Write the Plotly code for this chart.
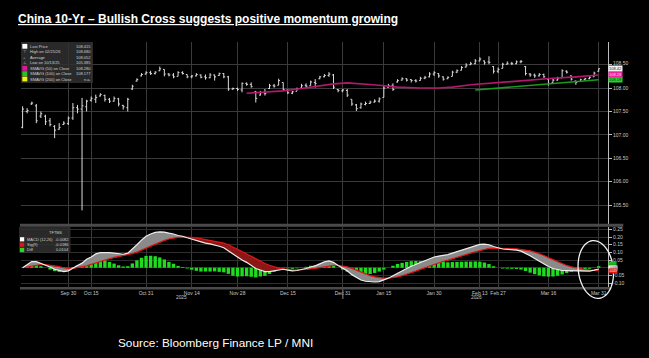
import math
import pandas as pd
import plotly.graph_objects as go

# ---------------- data ----------------
holidays = ["2025-10-01", "2025-10-02", "2025-10-03", "2025-10-06", "2025-10-07", "2025-10-08",
            "2026-01-01", "2026-01-02",
            "2026-02-16", "2026-02-17", "2026-02-18", "2026-02-19", "2026-02-20", "2026-02-23"]
start_date = "2025-09-16"
end_date = "2026-03-31"

open_ = [107.16, 107.50, 107.66, 107.62, 107.40, 107.40, 107.30, 107.18, 107.12, 107.22,
         107.24, 107.36, 107.58, 107.55, 107.60, 107.74, 107.76, 107.83, 107.84, 107.76,
         107.72, 107.77, 107.63, 107.58, 107.98, 108.15, 108.26, 108.30, 108.33, 108.31,
         108.37, 108.40, 108.30, 108.28, 108.25, 108.33, 108.29, 108.24, 108.26, 108.28,
         108.24, 108.22, 108.28, 108.27, 108.31, 108.24, 107.98, 107.99, 107.96, 108.10,
         108.08, 107.92, 107.85, 107.90, 107.99, 108.05, 108.06, 108.12, 107.96, 107.89,
         107.93, 108.00, 108.06, 108.05, 108.12, 108.20, 108.24, 108.27, 108.28, 107.97,
         107.94, 107.95, 107.76, 107.64, 107.58, 107.65, 107.67, 107.70, 107.72, 107.80,
         108.02, 108.06, 108.13, 108.17, 108.20, 108.18, 108.16, 108.16, 108.21, 108.24,
         108.30, 108.31, 108.24, 108.20, 108.25, 108.34, 108.38, 108.45, 108.50, 108.52,
         108.58, 108.58, 108.56, 108.46, 108.36, 108.42, 108.51, 108.53, 108.52, 108.56,
         108.46, 108.30, 108.28, 108.26, 108.29, 108.19, 108.12, 108.17, 108.22, 108.36,
         108.26, 108.15, 108.14, 108.18, 108.20, 108.24, 108.36]
high = [107.61, 107.57, 107.71, 107.66, 107.50, 107.43, 107.36, 107.21, 107.25, 107.29,
        107.39, 107.68, 107.64, 107.79, 107.75, 107.82, 107.86, 107.89, 107.86, 107.79,
        107.82, 107.79, 107.64, 107.79, 108.07, 108.21, 108.32, 108.36, 108.37, 108.36,
        108.46, 108.40, 108.32, 108.32, 108.36, 108.36, 108.29, 108.28, 108.32, 108.29,
        108.29, 108.32, 108.29, 108.33, 108.32, 108.26, 108.01, 108.01, 108.12, 108.12,
        108.12, 107.94, 107.94, 107.98, 108.09, 108.09, 108.20, 108.12, 107.98, 107.94,
        108.01, 108.09, 108.10, 108.16, 108.19, 108.26, 108.30, 108.34, 108.30, 107.98,
        107.98, 107.98, 107.76, 107.66, 107.69, 107.71, 107.73, 107.76, 107.80, 108.05,
        108.09, 108.10, 108.19, 108.23, 108.21, 108.19, 108.19, 108.24, 108.26, 108.34,
        108.36, 108.32, 108.25, 108.25, 108.37, 108.40, 108.47, 108.53, 108.56, 108.62,
        108.66, 108.59, 108.68, 108.47, 108.44, 108.54, 108.57, 108.56, 108.59, 108.60,
        108.47, 108.32, 108.31, 108.32, 108.31, 108.20, 108.20, 108.24, 108.40, 108.38,
        108.27, 108.16, 108.20, 108.22, 108.25, 108.35, 108.42]
low = [107.14, 107.46, 107.64, 107.25, 107.36, 107.21, 107.18, 106.93, 107.11, 107.21,
       107.21, 107.32, 107.46, 105.385, 107.50, 107.71, 107.68, 107.82, 107.71, 107.68,
       107.71, 107.61, 107.54, 107.50, 107.96, 108.14, 108.25, 108.29, 108.28, 108.29,
       108.36, 108.25, 108.25, 108.21, 108.25, 108.29, 108.21, 108.21, 108.25, 108.21,
       108.18, 108.21, 108.16, 108.26, 108.21, 107.94, 107.96, 107.94, 107.91, 108.05,
       108.01, 107.69, 107.84, 107.84, 107.98, 108.01, 108.06, 107.94, 107.87, 107.87,
       107.94, 108.00, 108.01, 108.05, 108.01, 108.19, 108.23, 108.24, 107.98, 107.91,
       107.91, 107.81, 107.62, 107.51, 107.56, 107.63, 107.66, 107.69, 107.69, 107.80,
       108.01, 107.94, 108.12, 108.16, 108.14, 108.12, 108.12, 108.16, 108.19, 108.23,
       108.26, 108.22, 108.16, 108.19, 108.25, 108.32, 108.38, 108.44, 108.49, 108.51,
       108.57, 108.50, 108.51, 108.31, 108.32, 108.42, 108.50, 108.49, 108.51, 108.53,
       108.27, 108.24, 108.22, 108.25, 108.22, 108.05, 108.12, 108.16, 108.22, 108.31,
       108.16, 108.07, 108.14, 108.16, 108.19, 108.24, 108.35]
close = [107.55, 107.52, 107.68, 107.30, 107.45, 107.28, 107.22, 107.10, 107.16, 107.25,
         107.36, 107.58, 107.55, 107.62, 107.72, 107.78, 107.80, 107.86, 107.76, 107.72,
         107.78, 107.66, 107.60, 107.76, 108.04, 108.18, 108.29, 108.33, 108.31, 108.34,
         108.41, 108.30, 108.28, 108.24, 108.33, 108.31, 108.24, 108.26, 108.29, 108.23,
         108.22, 108.28, 108.24, 108.31, 108.24, 107.98, 107.99, 107.97, 108.10, 108.08,
         108.03, 107.78, 107.90, 107.88, 108.05, 108.04, 108.16, 107.97, 107.90, 107.92,
         107.99, 108.05, 108.04, 108.13, 108.10, 108.24, 108.27, 108.30, 108.02, 107.95,
         107.96, 107.85, 107.66, 107.56, 107.66, 107.67, 107.70, 107.72, 107.77, 108.00,
         108.05, 107.97, 108.16, 108.20, 108.17, 108.16, 108.15, 108.21, 108.23, 108.30,
         108.33, 108.26, 108.19, 108.23, 108.34, 108.37, 108.44, 108.49, 108.52, 108.58,
         108.62, 108.54, 108.55, 108.36, 108.40, 108.51, 108.53, 108.52, 108.56, 108.57,
         108.31, 108.28, 108.26, 108.29, 108.24, 108.10, 108.17, 108.20, 108.37, 108.34,
         108.19, 108.12, 108.18, 108.20, 108.23, 108.32, 108.415]

sma50_dates = ["2025-12-02", "2025-12-05", "2025-12-12", "2025-12-18", "2025-12-24", "2025-12-29",
               "2026-01-05", "2026-01-09", "2026-01-14", "2026-01-20", "2026-01-27", "2026-02-02",
               "2026-02-05", "2026-02-11", "2026-02-26", "2026-03-06", "2026-03-17", "2026-03-24",
               "2026-03-31"]
sma50 = [107.89, 107.91, 107.94, 107.99, 108.05, 108.09, 108.11, 108.09, 108.06, 108.02,
         108.00, 108.00, 108.02, 108.07, 108.11, 108.16, 108.21, 108.24, 108.28]
sma100_dates = ["2026-02-12", "2026-02-27", "2026-03-06", "2026-03-13", "2026-03-23", "2026-03-31"]
sma100 = [107.96, 108.00, 108.05, 108.09, 108.13, 108.177]

macd = [0.0, 0.02, 0.04, 0.04, 0.03, 0.02, 0.005, -0.01, -0.02, -0.025,
        -0.02, 0.0, 0.015, 0.03, 0.055, 0.07, 0.09, 0.098, 0.1, 0.098,
        0.095, 0.09, 0.088, 0.095, 0.12, 0.15, 0.18, 0.205, 0.22, 0.23,
        0.234, 0.232, 0.225, 0.22, 0.21, 0.205, 0.195, 0.185, 0.175, 0.165,
        0.16, 0.155, 0.15, 0.14, 0.13, 0.11, 0.085, 0.065, 0.05, 0.035,
        0.015, -0.005, -0.015, -0.025, -0.025, -0.02, -0.012, -0.01, -0.015, -0.02,
        -0.018, -0.012, -0.005, 0.005, 0.012, 0.025, 0.038, 0.045, 0.035, 0.015,
        0.0, -0.02, -0.045, -0.065, -0.08, -0.088, -0.092, -0.093, -0.09, -0.08,
        -0.068, -0.052, -0.035, -0.02, -0.005, 0.01, 0.022, 0.032, 0.045, 0.058,
        0.07, 0.076, 0.08, 0.085, 0.095, 0.105, 0.115, 0.125, 0.135, 0.145,
        0.152, 0.154, 0.15, 0.138, 0.128, 0.122, 0.12, 0.118, 0.115, 0.108,
        0.095, 0.078, 0.06, 0.042, 0.024, 0.008, -0.005, -0.014, -0.018, -0.019,
        -0.02, -0.022, -0.024, -0.025, -0.022, -0.016, -0.0082]
signal = [0.0, 0.005, 0.012, 0.018, 0.02, 0.02, 0.017, 0.012, 0.007, 0.0,
          -0.005, -0.004, 0.0, 0.005, 0.012, 0.022, 0.032, 0.042, 0.052, 0.06,
          0.068, 0.074, 0.08, 0.085, 0.092, 0.102, 0.115, 0.128, 0.142, 0.155,
          0.167, 0.178, 0.187, 0.194, 0.198, 0.2, 0.2, 0.198, 0.195, 0.19,
          0.185, 0.18, 0.174, 0.167, 0.16, 0.15, 0.137, 0.122, 0.106, 0.09,
          0.074, 0.058, 0.042, 0.028, 0.016, 0.006, -0.002, -0.007, -0.011, -0.013,
          -0.014, -0.013, -0.011, -0.008, -0.004, 0.0, 0.006, 0.012, 0.015, 0.015,
          0.012, 0.006, -0.004, -0.016, -0.029, -0.041, -0.051, -0.059, -0.065, -0.068,
          -0.068, -0.065, -0.06, -0.052, -0.043, -0.033, -0.022, -0.011, 0.0, 0.012,
          0.023, 0.033, 0.042, 0.05, 0.058, 0.067, 0.076, 0.085, 0.095, 0.104,
          0.113, 0.12, 0.126, 0.128, 0.128, 0.127, 0.126, 0.125, 0.123, 0.12,
          0.116, 0.11, 0.102, 0.092, 0.08, 0.066, 0.052, 0.038, 0.026, 0.015,
          0.006, -0.001, -0.007, -0.012, -0.015, -0.017, -0.0186]
diff = [0.0, 0.015, 0.028, 0.022, 0.01, 0.0, -0.012, -0.022, -0.027, -0.025,
        -0.015, 0.004, 0.015, 0.025, 0.043, 0.048, 0.058, 0.056, 0.048, 0.038,
        0.027, 0.016, 0.008, 0.01, 0.028, 0.048, 0.065, 0.077, 0.078, 0.075,
        0.067, 0.054, 0.038, 0.026, 0.012, 0.005, -0.005, -0.013, -0.02, -0.025,
        -0.025, -0.025, -0.024, -0.027, -0.03, -0.04, -0.052, -0.057, -0.056, -0.055,
        -0.059, -0.063, -0.057, -0.053, -0.041, -0.026, -0.01, -0.003, -0.004, -0.007,
        -0.004, 0.001, 0.006, 0.013, 0.016, 0.025, 0.032, 0.033, 0.02, 0.0,
        -0.012, -0.026, -0.041, -0.049, -0.051, -0.047, -0.041, -0.034, -0.025, -0.012,
        0.0, 0.013, 0.025, 0.032, 0.038, 0.043, 0.044, 0.043, 0.045, 0.046,
        0.047, 0.043, 0.038, 0.035, 0.037, 0.038, 0.039, 0.04, 0.04, 0.041,
        0.039, 0.034, 0.024, 0.01, 0.0, -0.005, -0.006, -0.007, -0.008, -0.012,
        -0.021, -0.032, -0.042, -0.05, -0.056, -0.058, -0.057, -0.052, -0.044, -0.034,
        -0.026, -0.021, -0.017, -0.013, -0.007, 0.001, 0.0104]

tick_dates = ["2025-09-30", "2025-10-15", "2025-10-31", "2025-11-14", "2025-11-28", "2025-12-15",
              "2025-12-31", "2026-01-15", "2026-01-30", "2026-02-13", "2026-02-27", "2026-03-16",
              "2026-03-31"]
tick_labels = ["Sep 30", "Oct 15", "Oct 31", "Nov 14", "Nov 28", "Dec 15", "Dec 31", "Jan 15",
               "Jan 30", "Feb 13", "Feb 27", "Mar 16", "Mar 31"]
price_ticks = [105.5, 106.0, 106.5, 107.0, 107.5, 108.0, 108.5]
macd_ticks = [-0.10, -0.05, 0.0, 0.05, 0.10, 0.15, 0.20, 0.25]

legend_rows = [("Last Price", "108.415"), ("High on 02/25/26", "108.680"), ("Average", "108.052"),
               ("Low on 10/13/25", "105.385"), ("SMAVG (50) on Close", "108.280"),
               ("SMAVG (100) on Close", "108.177"), ("SMAVG (200) on Close", "n.a.")]
macd_rows = [("MACD (12,26)", "-0.0082"), ("Sig(9)", "-0.0186"), ("Diff", "0.0104")]

# ---------------- trading-day axis ----------------
days = pd.bdate_range(start_date, end_date)
days = days[~days.isin(pd.to_datetime(holidays))]
day_index = {d.strftime("%Y-%m-%d"): i for i, d in enumerate(days)}
idx = list(range(len(close)))
tickvals = [day_index[d] for d in tick_dates]
sma50_x = [day_index[d] for d in sma50_dates]
sma100_x = [day_index[d] for d in sma100_dates]

# ---------------- geometry (pixels) ----------------
FW, FH = 649, 358
PL, PR, PT, PB = 21, 607.7, 42, 288
PW, PH = PR - PL, PB - PT


def fx(px):
    return (px - PL) / PW


def fy(py):
    return (PB - py) / PH


WHITE_BAR = "#dcdcdc"
GRID = "#3a3a3a"
TXT = "#c8c8c8"
MAGENTA = "#b3176f"
GREEN_SMA = "#1c9a1c"
FONT = "Liberation Sans, Arial, sans-serif"
LEG_FS = 4.0

fig = go.Figure()

# price bars
fig.add_trace(go.Ohlc(x=idx, open=open_, high=high, low=low, close=close,
                      increasing=dict(line=dict(color=WHITE_BAR, width=1)),
                      decreasing=dict(line=dict(color=WHITE_BAR, width=1)),
                      tickwidth=0.3, xaxis="x", yaxis="y", hoverinfo="skip"))
fig.add_trace(go.Scatter(x=sma50_x, y=sma50, mode="lines", line=dict(color=MAGENTA, width=1.6),
                         xaxis="x", yaxis="y", hoverinfo="skip"))
fig.add_trace(go.Scatter(x=sma100_x, y=sma100, mode="lines", line=dict(color=GREEN_SMA, width=1.6),
                         xaxis="x", yaxis="y", hoverinfo="skip"))

# MACD histogram
fig.add_trace(go.Bar(x=idx, y=diff, marker=dict(color="#1fdc1f", line=dict(width=0)), width=0.74,
                     xaxis="x", yaxis="y2", hoverinfo="skip"))

# MACD vs signal filled areas
segments = []
cur_x, cur_a, cur_b = [idx[0]], [macd[0]], [signal[0]]
cur_sign = 0
for i in range(len(idx) - 1):
    d0 = macd[i] - signal[i]
    d1 = macd[i + 1] - signal[i + 1]
    if cur_sign == 0 and d0 != 0:
        cur_sign = 1 if d0 > 0 else -1
    if d0 * d1 < 0:
        t = d0 / (d0 - d1)
        xc = idx[i] + t * (idx[i + 1] - idx[i])
        yc = macd[i] + t * (macd[i + 1] - macd[i])
        cur_x.append(xc); cur_a.append(yc); cur_b.append(yc)
        segments.append((cur_x, cur_a, cur_b, cur_sign))
        cur_x, cur_a, cur_b = [xc], [yc], [yc]
        cur_sign = 1 if d1 > 0 else -1
    cur_x.append(idx[i + 1]); cur_a.append(macd[i + 1]); cur_b.append(signal[i + 1])
segments.append((cur_x, cur_a, cur_b, cur_sign))

for sx, sa, sb, sg in segments:
    fig.add_trace(go.Scatter(x=sx + sx[::-1], y=sa + sb[::-1], mode="lines", fill="toself",
                             fillcolor="#8a8a8a" if sg > 0 else "#8c1717",
                             line=dict(width=0), xaxis="x", yaxis="y2", hoverinfo="skip"))

fig.add_trace(go.Scatter(x=idx, y=signal, mode="lines", line=dict(color="#e01515", width=1.2),
                         xaxis="x", yaxis="y2", hoverinfo="skip"))
fig.add_trace(go.Scatter(x=idx, y=macd, mode="lines", line=dict(color="#eeeeee", width=1.2),
                         xaxis="x", yaxis="y2", hoverinfo="skip"))

# ---------------- layout ----------------
top_dom = [fy(224.5), 1.0]
bot_dom = [0.0, fy(226.5)]
x_lo = (PL - 22.6) / 4.57
x_hi = (PR - 22.6) / 4.57

# the top-most price label is drawn as an annotation (nudged up, like the reference where a tag covers it)
price_ticktext = [f"{v:.2f}" if v != price_ticks[-1] else "" for v in price_ticks]
macd_ticktext = ["" if v == 0 else f"{v:.2f}" for v in macd_ticks]

fig.update_layout(
    width=FW, height=FH, autosize=False,
    paper_bgcolor="#000000", plot_bgcolor="#000000",
    margin=dict(l=PL, r=FW - PR, t=PT, b=FH - PB, autoexpand=False),
    showlegend=False, bargap=0.2,
    font=dict(family=FONT, color=TXT, size=6),
    xaxis=dict(domain=[0, 1], anchor="y2", range=[x_lo, x_hi], tickvals=tickvals, ticktext=tick_labels,
               showgrid=True, gridcolor=GRID, gridwidth=1, zeroline=False, showline=False,
               ticks="", ticklabelstandoff=1, tickangle=0, automargin=False,
               tickfont=dict(size=5, color=TXT), rangeslider=dict(visible=False)),
    yaxis=dict(domain=top_dom, anchor="x", side="right", range=[105.083, 108.985],
               tickvals=price_ticks, ticktext=price_ticktext,
               showgrid=True, gridcolor=GRID, gridwidth=1, zeroline=False, automargin=False,
               showline=True, linecolor="#bdbdbd", linewidth=1, ticks="outside", ticklen=3,
               tickcolor="#bdbdbd", tickfont=dict(size=5, color=TXT)),
    yaxis2=dict(domain=bot_dom, anchor="x", side="right", range=[-0.132, 0.2686],
                tickvals=macd_ticks, ticktext=macd_ticktext,
                showgrid=True, gridcolor="#2f2f2f", gridwidth=1, zeroline=False, automargin=False,
                showline=True, linecolor="#bdbdbd", linewidth=1, ticks="outside", ticklen=3,
                tickcolor="#bdbdbd", tickfont=dict(size=5, color=TXT)),
)

shapes = []
annotations = []

# panel separator bands
shapes.append(dict(type="rect", xref="paper", yref="paper", x0=fx(20), x1=fx(623), y0=fy(226.8), y1=fy(223.8),
                   fillcolor="#4a4a4a", line=dict(width=0), layer="above"))
shapes.append(dict(type="rect", xref="paper", yref="paper", x0=fx(20), x1=fx(611), y0=fy(289.5), y1=fy(287.0),
                   fillcolor="#4a4a4a", line=dict(width=0), layer="above"))
shapes.append(dict(type="line", xref="paper", yref="paper", x0=fx(342.7), x1=fx(342.7), y0=fy(289.5), y1=fy(299),
                   line=dict(color="#8a8a8a", width=1)))

# top legend box
shapes.append(dict(type="rect", xref="paper", yref="paper", x0=fx(21), x1=fx(93), y0=fy(83), y1=fy(42),
                   fillcolor="rgba(48,48,48,0.85)", line=dict(width=0), layer="above"))
row_y = [46.3, 51.7, 57.0, 62.3, 68.3, 73.7, 79.0]
marker_cols = ["#ffffff", None, None, None, "#e0169a", "#22c422", "#f2f20a"]
symbols = [None, "⊤", "+", "⊥", None, None, None]
for (lab, val), py, mc, sym in zip(legend_rows, row_y, marker_cols, symbols):
    if mc:
        shapes.append(dict(type="rect", xref="paper", yref="paper", x0=fx(22.3), x1=fx(27.3),
                           y0=fy(py + 2.4), y1=fy(py - 2.4), fillcolor=mc, line=dict(width=0), layer="above"))
    if sym:
        annotations.append(dict(x=fx(24.8), y=fy(py), xref="paper", yref="paper", text=sym, showarrow=False,
                                xanchor="center", yanchor="middle", font=dict(size=LEG_FS, color="#bdbdbd")))
    annotations.append(dict(x=fx(29), y=fy(py), xref="paper", yref="paper", text=lab, showarrow=False,
                            xanchor="left", yanchor="middle", borderpad=0,
                            font=dict(size=LEG_FS, color="#d0d0d0")))
    annotations.append(dict(x=fx(91.5), y=fy(py), xref="paper", yref="paper", text=val, showarrow=False,
                            xanchor="right", yanchor="middle", borderpad=0,
                            font=dict(size=LEG_FS, color="#d0d0d0")))

# MACD legend box
shapes.append(dict(type="rect", xref="paper", yref="paper", x0=fx(19), x1=fx(70.5), y0=fy(253), y1=fy(227),
                   fillcolor="rgba(48,48,48,0.85)", line=dict(width=0), layer="above"))
annotations.append(dict(x=fx(64), y=fy(232), xref="paper", yref="paper", text="TFTM6", showarrow=False,
                        xanchor="right", yanchor="middle", borderpad=0,
                        font=dict(size=LEG_FS, color="#d0d0d0")))
macd_cols = ["#ffffff", "#e01515", "#1fdc1f"]
for (lab, val), py, mc in zip(macd_rows, [239.3, 244.7, 250.0], macd_cols):
    shapes.append(dict(type="rect", xref="paper", yref="paper", x0=fx(20), x1=fx(24.2),
                       y0=fy(py + 2.1), y1=fy(py - 2.1), fillcolor=mc, line=dict(width=0), layer="above"))
    annotations.append(dict(x=fx(25.6), y=fy(py), xref="paper", yref="paper", text=lab, showarrow=False,
                            xanchor="left", yanchor="middle", borderpad=0,
                            font=dict(size=LEG_FS, color="#d0d0d0")))
    annotations.append(dict(x=fx(69.6), y=fy(py), xref="paper", yref="paper", text=val, showarrow=False,
                            xanchor="right", yanchor="middle", borderpad=0,
                            font=dict(size=LEG_FS, color="#d0d0d0")))

# top price label (108.50) nudged just above the last-price tag
annotations.append(dict(x=fx(611.2), y=fy(62.6), xref="paper", yref="paper", text=f"{price_ticks[-1]:.2f}",
                        showarrow=False, xanchor="left", yanchor="middle", borderpad=0,
                        font=dict(size=5, color=TXT)))

# right-side value tags (top panel, at their values)
for val, bg, fc in [(sma100[-1], "#2bd42b", "#0a3a0a"), (sma50[-1], "#e8259c", "#ffd6ee"),
                    (close[-1], "#f2f2f2", "#202020")]:
    annotations.append(dict(x=fx(608), y=val, xref="paper", yref="y", text=f"{val:.2f}", showarrow=False,
                            xanchor="left", yanchor="middle", bgcolor=bg, borderpad=0,
                            font=dict(size=4, color=fc)))
# MACD panel tags, stacked compactly around the zero line
for val, bg, fc, py in [(diff[-1], "#2bd42b", "#0a3a0a", 264.4), (macd[-1], "#f2f2f2", "#202020", 267.7),
                        (signal[-1], "#e01515", "#ffffff", 271.0)]:
    annotations.append(dict(x=fx(608), y=fy(py), xref="paper", yref="paper", text=f"{val:.3f}",
                            showarrow=False, xanchor="left", yanchor="middle", bgcolor=bg, borderpad=0,
                            font=dict(size=2.8, color=fc)))

# year labels
annotations.append(dict(x=fx(181), y=fy(297.5), xref="paper", yref="paper", text="2025", showarrow=False,
                        xanchor="center", yanchor="middle", borderpad=0, font=dict(size=4.8, color=TXT)))
annotations.append(dict(x=fx(476), y=fy(297.5), xref="paper", yref="paper", text="2026", showarrow=False,
                        xanchor="center", yanchor="middle", borderpad=0, font=dict(size=4.8, color=TXT)))

# hand-drawn ellipse highlight
ecx, ecy, erx, ery, rot = 595.5, 269.5, 17.5, 29.0, -0.12
pts = []
for k in range(73):
    a = 2 * math.pi * k / 72
    ex = erx * math.cos(a)
    ey = ery * math.sin(a)
    px = ecx + ex * math.cos(rot) - ey * math.sin(rot)
    py = ecy + ex * math.sin(rot) + ey * math.cos(rot)
    pts.append((fx(px), fy(py)))
path = "M " + " L ".join(f"{x:.5f},{y:.5f}" for x, y in pts) + " Z"
shapes.append(dict(type="path", xref="paper", yref="paper", path=path,
                   line=dict(color="#f2f2f2", width=1.3), layer="above"))

# title and source
annotations.append(dict(x=fx(17), y=fy(19), xref="paper", yref="paper",
                        text="<b><u>China 10-Yr – Bullish Cross suggests positive momentum growing</u></b>",
                        showarrow=False, xanchor="left", yanchor="middle", borderpad=0,
                        font=dict(family="Liberation Sans, Arial, sans-serif", size=12, color="#ffffff")))
annotations.append(dict(x=fx(117), y=fy(343), xref="paper", yref="paper",
                        text="Source: Bloomberg Finance LP / MNI", showarrow=False,
                        xanchor="left", yanchor="middle", borderpad=0,
                        font=dict(family=FONT, size=11.8, color="#ffffff")))

fig.update_layout(shapes=shapes, annotations=annotations)
fig.write_html("out.html", config={"displayModeBar": False, "staticPlot": True},
               post_script="document.body.style.margin='0';document.body.style.padding='0';"
                           "document.body.style.background='#000';document.body.style.overflow='hidden';")
